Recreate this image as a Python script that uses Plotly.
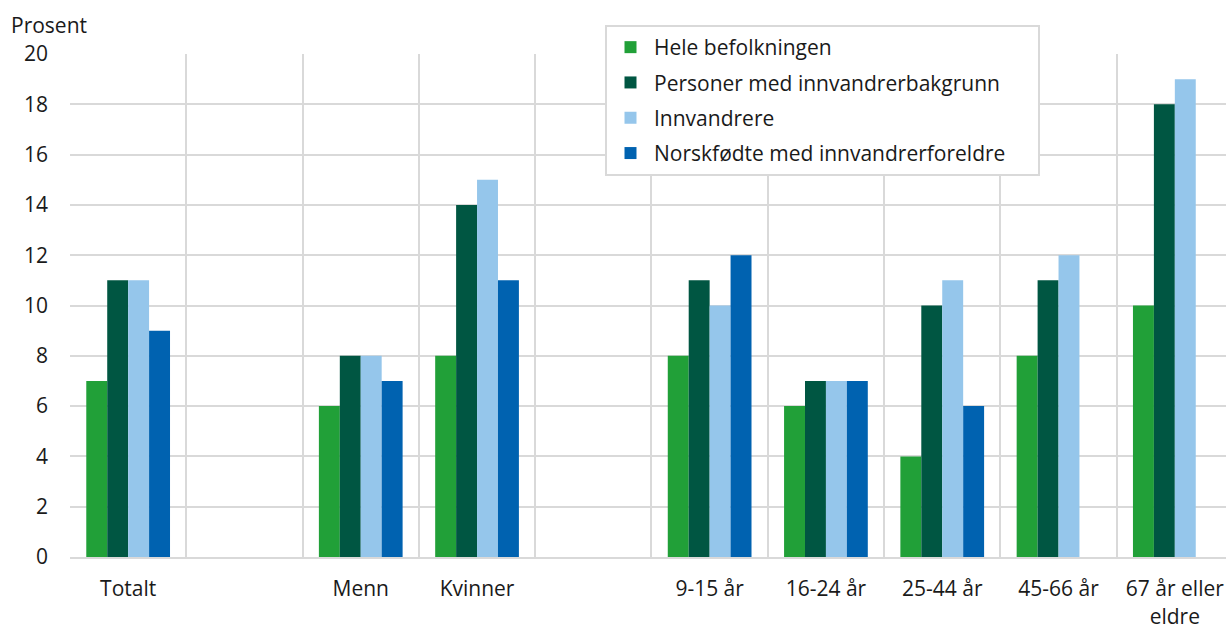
import plotly.graph_objects as go

categories = ["Totalt", " ", "Menn", "Kvinner", "  ", "9-15 år", "16-24 år",
              "25-44 år", "45-66 år", "67 år eller<br>eldre"]

hele = [7, None, 6, 8, None, 8, 6, 4, 8, 10]
personer = [11, None, 8, 14, None, 11, 7, 10, 11, 18]
innvandrere = [11, None, 8, 15, None, 10, 7, 11, 12, 19]
norskfodte = [9, None, 7, 11, None, 12, 7, 6, None, None]

series = [
    ("Hele befolkningen", hele, "#21A038"),
    ("Personer med innvandrerbakgrunn", personer, "#005642"),
    ("Innvandrere", innvandrere, "#95C6EB"),
    ("Norskfødte med innvandrerforeldre" + "\u00a0" * 5, norskfodte, "#0062B0"),
]

GRID = "#D9D9D9"
FONT = "Open Sans"
TEXT = "#1a1a1a"
FS = 21

fig = go.Figure()
for i, (name, vals, color) in enumerate(series):
    fig.add_trace(go.Bar(
        x=categories, y=vals, name=name, legendgroup=str(i),
        marker=dict(color=color, line=dict(width=0)),
        hovertemplate="%{x}: %{y}<extra>" + name.strip() + "</extra>",
    ))

fig.update_layout(
    width=1226, height=626,
    margin=dict(l=70, r=0, t=54, b=69, autoexpand=False),
    paper_bgcolor="white", plot_bgcolor="white",
    font=dict(family=FONT, size=FS, color=TEXT),
    barmode="group", bargap=0.28, bargroupgap=0,
    showlegend=True,
    legend=dict(
        xref="container", yref="container",
        x=605 / 1226, y=1 - 25 / 626, xanchor="left", yanchor="top",
        bgcolor="white", bordercolor=GRID, borderwidth=2,
        font=dict(family=FONT, size=FS, color=TEXT),
        tracegroupgap=5, itemwidth=37,
    ),
)

fig.update_xaxes(
    type="category", categoryorder="array", categoryarray=categories,
    range=[-0.5, 9.44], tickson="boundaries", automargin=False,
    showgrid=True, gridcolor=GRID, gridwidth=2,
    showline=True, linecolor=GRID, linewidth=2,
    ticks="", ticklabelstandoff=12,
)
fig.update_yaxes(
    range=[0, 20], dtick=2, automargin=False,
    showgrid=True, gridcolor=GRID, gridwidth=2,
    zeroline=False, ticks="", ticklabelstandoff=21,
)

fig.add_annotation(
    text="Prosent", xref="paper", yref="paper", x=-0.0525, y=(557 - 25) / 503,
    xanchor="left", yanchor="middle", showarrow=False,
    font=dict(family=FONT, size=FS, color=TEXT),
)

fig.write_html("out.html", config={"displayModeBar": False},
               post_script="document.body.style.margin='0';")
